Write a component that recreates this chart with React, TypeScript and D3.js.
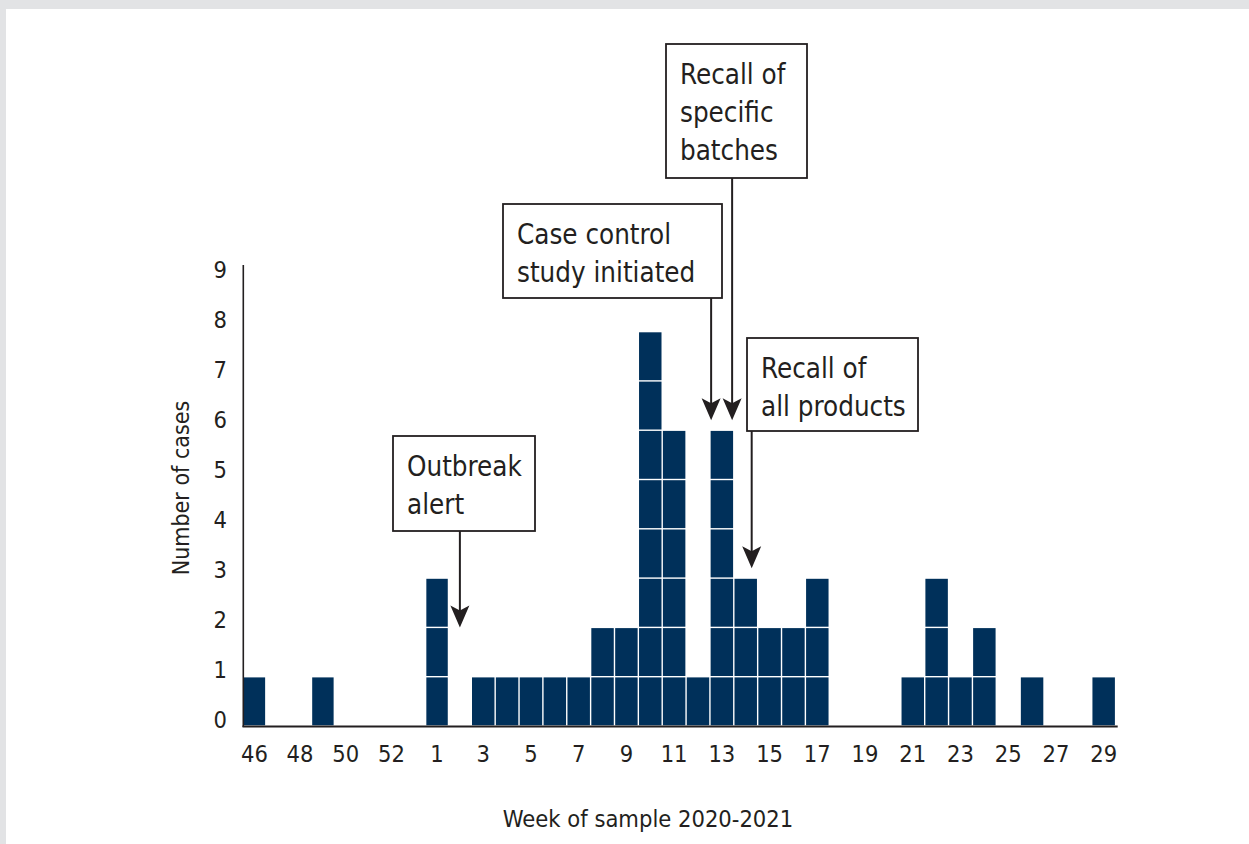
import React from 'react';
import * as d3 from 'd3';

// weekly case counts, week 46 of 2020 through week 29 of 2021
const weeks = [
  '46', '47', '48', '49', '50', '51', '52', '53',
  '1', '2', '3', '4', '5', '6', '7', '8', '9', '10', '11', '12', '13', '14', '15',
  '16', '17', '18', '19', '20', '21', '22', '23', '24', '25', '26', '27', '28', '29',
];
const cases = [
  1, 0, 0, 1, 0, 0, 0, 0,
  3, 0, 1, 1, 1, 1, 1, 2, 2, 8, 6, 1, 6, 3, 2,
  2, 3, 0, 0, 0, 1, 3, 1, 2, 0, 1, 0, 0, 1,
];
const tickWeeks = ['46', '48', '50', '52', '1', '3', '5', '7', '9', '11', '13', '15', '17', '19', '21', '23', '25', '27', '29'];
const yTicks = [0, 1, 2, 3, 4, 5, 6, 7, 8, 9];

// annotation: week the arrow points at, offset within that week, arrow tip level
const notes = [
  { lines: ['Outbreak', 'alert'], week: '2', off: 0.5, tip: 2.0 },
  { lines: ['Case control', 'study initiated'], week: '13', off: 0.05, tip: 6.2 },
  { lines: ['Recall of', 'specific', 'batches'], week: '13', off: 0.93, tip: 6.2 },
  { lines: ['Recall of', 'all products'], week: '14', off: 0.75, tip: 3.2 },
];
// box placement (layout only)
const boxes = [
  { x: 393, y: 436, w: 142, h: 95 },
  { x: 503, y: 204, w: 219, h: 94 },
  { x: 666, y: 44, w: 141, h: 134 },
  { x: 747, y: 338, w: 171, h: 93 },
];

const W = 1249;
const H = 844;
const navy = '#00305a';
const ink = '#231f20';
const font = '"DejaVu Sans Condensed", "DejaVu Sans", sans-serif';

export default function App() {
  const x = d3.scaleLinear().domain([0, 10, weeks.length]).range([243, 471.3, 1115.6]);
  const idx = (w: string) => weeks.indexOf(w);
  const y = d3.scaleLinear().domain([0, 9]).range([726, 282.3]);
  const yLab = d3.scaleLinear().domain([0, 9]).range([720, 270]);

  const cells: { i: number; k: number }[] = [];
  cases.forEach((c, i) => d3.range(c).forEach((k) => cells.push({ i, k })));

  return (
    <svg width={W} height={H} style={{ position: 'absolute', left: 0, top: 0, display: 'block' }}>
      <rect width={W} height={H} fill="#e2e3e5" />
      <rect x={6} y={9} width={W - 6} height={H - 9} fill="#fff" />

      {cells.map(({ i, k }) => (
        <rect
          key={`${i}-${k}`}
          x={x(i) + 0.7}
          y={y(k + 1) + 0.7}
          width={x(i + 1) - x(i) - 1.4}
          height={y(k) - y(k + 1) - 1.4}
          fill={navy}
        />
      ))}

      <line x1={243.3} x2={243.3} y1={265} y2={727} stroke={ink} strokeWidth={1.6} />
      <line x1={242.5} x2={1117.7} y1={726.5} y2={726.5} stroke={ink} strokeWidth={2} />

      {yTicks.map((t) => (
        <text key={t} x={227} y={yLab(t)} textAnchor="end" dominantBaseline="central"
          fontFamily={font} fontSize={23.5} fill={ink}>{t}</text>
      ))}
      {tickWeeks.map((w) => (
        <text key={w} x={(x(idx(w)) + x(idx(w) + 1)) / 2} y={762} textAnchor="middle"
          fontFamily={font} fontSize={23.5} fill={ink}>{w}</text>
      ))}

      <text x={648} y={827} textAnchor="middle" fontFamily={font} fontSize={23.5} fill={ink}>
        Week of sample 2020-2021
      </text>
      <text transform="translate(189,488) rotate(-90)" textAnchor="middle"
        fontFamily={font} fontSize={23} fill={ink}>Number of cases</text>

      {notes.map((n, j) => {
        const b = boxes[j];
        const i = idx(n.week);
        const ax = x(i) + n.off * (x(i + 1) - x(i));
        const ty = y(n.tip);
        return (
          <g key={j}>
            <rect x={b.x} y={b.y} width={b.w} height={b.h} fill="#fff" stroke={ink} strokeWidth={1.8} />
            {n.lines.map((l, m) => (
              <text key={m} x={b.x + 14} y={b.y + 40 + m * 38} fontFamily={font}
                fontSize={27.5} fill={ink}>{l}</text>
            ))}
            <line x1={ax} x2={ax} y1={b.y + b.h} y2={ty - 12} stroke={ink} strokeWidth={2} />
            <path d={`M${ax},${ty} L${ax - 9.5},${ty - 22} L${ax},${ty - 17} L${ax + 9.5},${ty - 22} Z`} fill={ink} />
          </g>
        );
      })}
    </svg>
  );
}
